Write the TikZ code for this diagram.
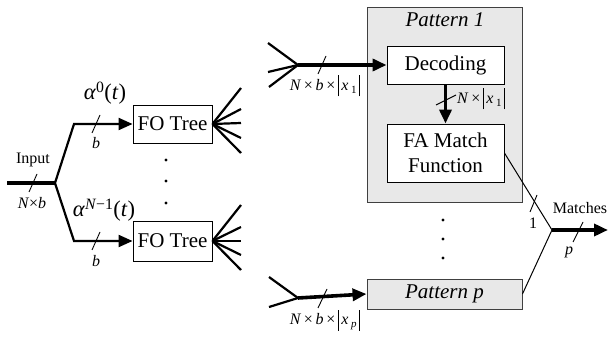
\documentclass[tikz,border=0pt]{standalone}
\usepackage{fontspec}
\setmainfont{Liberation Serif}
\usetikzlibrary{arrows.meta,calc}
\newcommand{\bigf}{\fontsize{21}{25}\selectfont}
\newcommand{\alf}{\fontsize{22.5}{25}\selectfont}
\newcommand{\smf}{\fontsize{16}{18}\selectfont}
\newcommand{\vbar}{\rule[-6pt]{0.8pt}{21pt}}
\newcommand{\xvar}[1]{\vbar\,\textit{x}\,\raisebox{-3pt}{\fontsize{11}{12}\selectfont #1}\,\vbar}
\begin{document}
\begin{tikzpicture}[x=1pt,y=-1pt,
  box/.style={draw, line width=0.9pt, fill=white, inner sep=0pt, font=\bigf, align=center},
  patbox/.style={draw=black!75, line width=0.9pt, fill=black!9, inner sep=0pt},
  heavy/.style={line width=3.6pt},
  medium/.style={line width=2.2pt},
  light/.style={line width=1pt},
  tk/.style={line width=0.9pt},
  arr/.style={-{Triangle[length=14pt,width=12pt]}},
  lbl/.style={font=\smf, inner sep=0pt},
  dot/.style={circle, fill=black, inner sep=0pt, minimum size=3.2pt}]
\useasboundingbox (0,0) rectangle (608,339);

% ---------- left part ----------
\node[box, minimum width=79pt, minimum height=38pt] (fo1) at (172.5,124) {FO Tree};
\node[box, minimum width=79pt, minimum height=40pt] (fo2) at (172.5,241) {FO Tree};

\coordinate (in) at (7,183);
\coordinate (j1) at (55,183);
\coordinate (u1) at (74,124);
\coordinate (l1) at (74,241);

\draw[heavy] (in) -- (j1);
\draw[medium, arr, line join=miter] (j1) -- (u1) -- (fo1.west);
\draw[medium, arr, line join=miter] (j1) -- (l1) -- (fo2.west);

\foreach \i/\y in {1/88,2/109,3/123,4/138,5/153}{
  \coordinate (fa\i) at (241,\y);
  \draw[medium] (fo1.east) -- (fa\i);
}
\foreach \i/\y in {1/205,2/227,3/241,4/255,5/270}{
  \coordinate (fb\i) at (241,\y);
  \draw[medium] (fo2.east) -- (fb\i);
}

% ticks
\draw[tk] (29,192) -- (37,174);
\draw[tk] (92,133) -- (100,115);
\draw[tk] (92,250) -- (100,232);

\node[lbl] (inl) at (33,160) {Input};
\node[lbl] (nb) at (32,203) {\textit{N}×\textit{b}};
\node[lbl] (b1) at (96,143) {\textit{b}};
\node[lbl] (b2) at (96,261) {\textit{b}};
\node[font=\alf, inner sep=0pt] (al0) at (105,93) {\textit{α}\textsuperscript{0}(\textit{t})};
\node[font=\alf, inner sep=0pt] (al1) at (104,210) {\textit{α}\textsuperscript{\textit{N}−1}(\textit{t})};

\node[dot] (d1) at (166,160) {};
\node[dot] (d2) at (166,181) {};
\node[dot] (d3) at (166,203) {};

% ---------- right part ----------
\node[patbox, minimum width=155pt, minimum height=195pt] (p1) at (444.5,104.5) {};
\node[font=\bigf\itshape, inner sep=0pt, anchor=base] (p1t) at (445,27) {Pattern 1};
\node[box, minimum width=117pt, minimum height=38pt] (dec) at (445.5,65) {Decoding};
\node[box, minimum width=117pt, minimum height=58pt] (fam) at (445.5,153) {FA Match\\Function};
\node[patbox, minimum width=155pt, minimum height=30pt, font=\bigf\itshape] (pp) at (444.5,294) {Pattern \textit{p}};

\node[dot] (e1) at (443,220) {};
\node[dot] (e2) at (443,239) {};
\node[dot] (e3) at (443,258) {};

% input fan to Pattern 1
\coordinate (a1) at (298,65);
\coordinate (g1) at (268,43);
\coordinate (g2) at (268,72);
\coordinate (g3) at (269,87);
\draw[medium] (g1) -- (a1);
\draw[medium] (g2) -- (a1);
\draw[medium] (g3) -- (a1);
\draw[heavy, arr] (a1) -- (dec.west);
\draw[tk] (318,74) -- (326,56);
\node[lbl] (lx1) at (325,86) {\textit{N}\,×\,\textit{b}\,×\,\xvar{1}};

% decoding to FA
\draw[heavy, arr] (dec.south) -- (fam.north);
\draw[tk] (436,105) -- (456,95);
\node[lbl, anchor=west] (lx2) at (457,99) {\textit{N}\,×\,\xvar{1}};

% input fan to Pattern p
\coordinate (a2) at (298,298);
\coordinate (h1) at (269,277);
\coordinate (h2) at (269,307);
\draw[medium] (h1) -- (a2);
\draw[medium] (h2) -- (a2);
\draw[heavy, arr] (a2) -- (pp.west);
\draw[tk] (318,308) -- (327,289);
\node[lbl] (lxp) at (325,320) {\textit{N}\,×\,\textit{b}\,×\,\xvar{\textit{p}}};

% output
\coordinate (m) at (552,230);
\coordinate (out) at (608,230);
\draw[light] (fam.east) -- (m);
\draw[light] (pp.east) -- (m);
\draw[heavy, arr] (m) -- (out);
\draw[tk] (530,212) -- (537,195);
\draw[tk] (573,242) -- (583,222);
\node[lbl] (one) at (533,223) {1};
\node[lbl] (mat) at (580,208) {Matches};
\node[lbl] (pl) at (569,252) {\textit{p}};
\end{tikzpicture}
\end{document}
